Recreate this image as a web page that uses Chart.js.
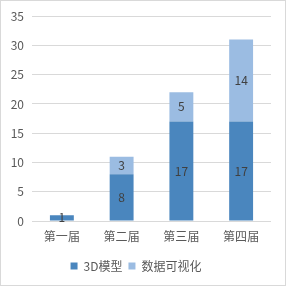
<!DOCTYPE html>
<html>
<head>
<meta charset="utf-8">
<script src="https://cdn.jsdelivr.net/npm/chart.js@4/dist/chart.umd.min.js"></script>
<style>
    html, body { margin: 0; padding: 0; background: #ffffff; }
    #wrap { width: 284px; height: 284px; border: 1px solid #d9d9d9; }
</style>
</head>
<body>
<div id="wrap"><canvas id="barChart" width="284" height="284"></canvas></div>
<script>
// Chart data
const categories = ['第一届', '第二届', '第三届', '第四届'];
const modelValues = [1, 8, 17, 17];
const vizValues = [0, 3, 5, 14];
const yTicks = [0, 5, 10, 15, 20, 25, 30, 35];

const fontFamily = "'Noto Sans CJK SC', 'Noto Sans', sans-serif";
const labelColor = '#595959';

// Draw value labels centered in each segment
const segmentLabels = {
    id: 'segmentLabels',
    afterDatasetsDraw(chart) {
        const ctx = chart.ctx;
        ctx.save();
        ctx.font = '12px ' + fontFamily;
        ctx.fillStyle = '#404040';
        ctx.textAlign = 'center';
        ctx.textBaseline = 'middle';
        chart.data.datasets.forEach((ds, i) => {
            const meta = chart.getDatasetMeta(i);
            meta.data.forEach((bar, j) => {
                const v = ds.data[j];
                if (!v) return;
                ctx.fillText(String(v), bar.x, (bar.y + bar.base) / 2);
            });
        });
        ctx.restore();
    }
};

new Chart(document.getElementById('barChart'), {
    type: 'bar',
    data: {
        labels: categories,
        datasets: [
            {
                label: '3D模型',
                data: modelValues,
                backgroundColor: '#4a86be',
                barPercentage: 0.4,
                categoryPercentage: 1
            },
            {
                label: '数据可视化',
                data: vizValues,
                backgroundColor: '#9bbce2',
                barPercentage: 0.4,
                categoryPercentage: 1
            }
        ]
    },
    options: {
        responsive: false,
        animation: false,
        layout: { padding: { top: 8, right: 14, left: 0, bottom: 3 } },
        plugins: {
            legend: {
                position: 'bottom',
                labels: {
                    boxWidth: 7,
                    boxHeight: 7,
                    padding: 6,
                    color: labelColor,
                    font: { family: fontFamily, size: 12 }
                }
            },
            tooltip: { enabled: false }
        },
        scales: {
            x: {
                stacked: true,
                afterFit(scale) { scale.height = 33; },
                grid: { display: false },
                border: { display: false },
                ticks: {
                    color: labelColor,
                    padding: 0,
                    font: { family: fontFamily, size: 12 }
                }
            },
            y: {
                stacked: true,
                min: 0,
                max: 35,
                afterFit(scale) { scale.width = 31; },
                afterBuildTicks(scale) { scale.ticks = yTicks.map(v => ({ value: v })); },
                grid: { color: '#d9d9d9', drawTicks: false },
                border: { display: false },
                ticks: {
                    color: labelColor,
                    padding: 8,
                    font: { family: fontFamily, size: 12 }
                }
            }
        }
    },
    plugins: [segmentLabels]
});
</script>
</body>
</html>
